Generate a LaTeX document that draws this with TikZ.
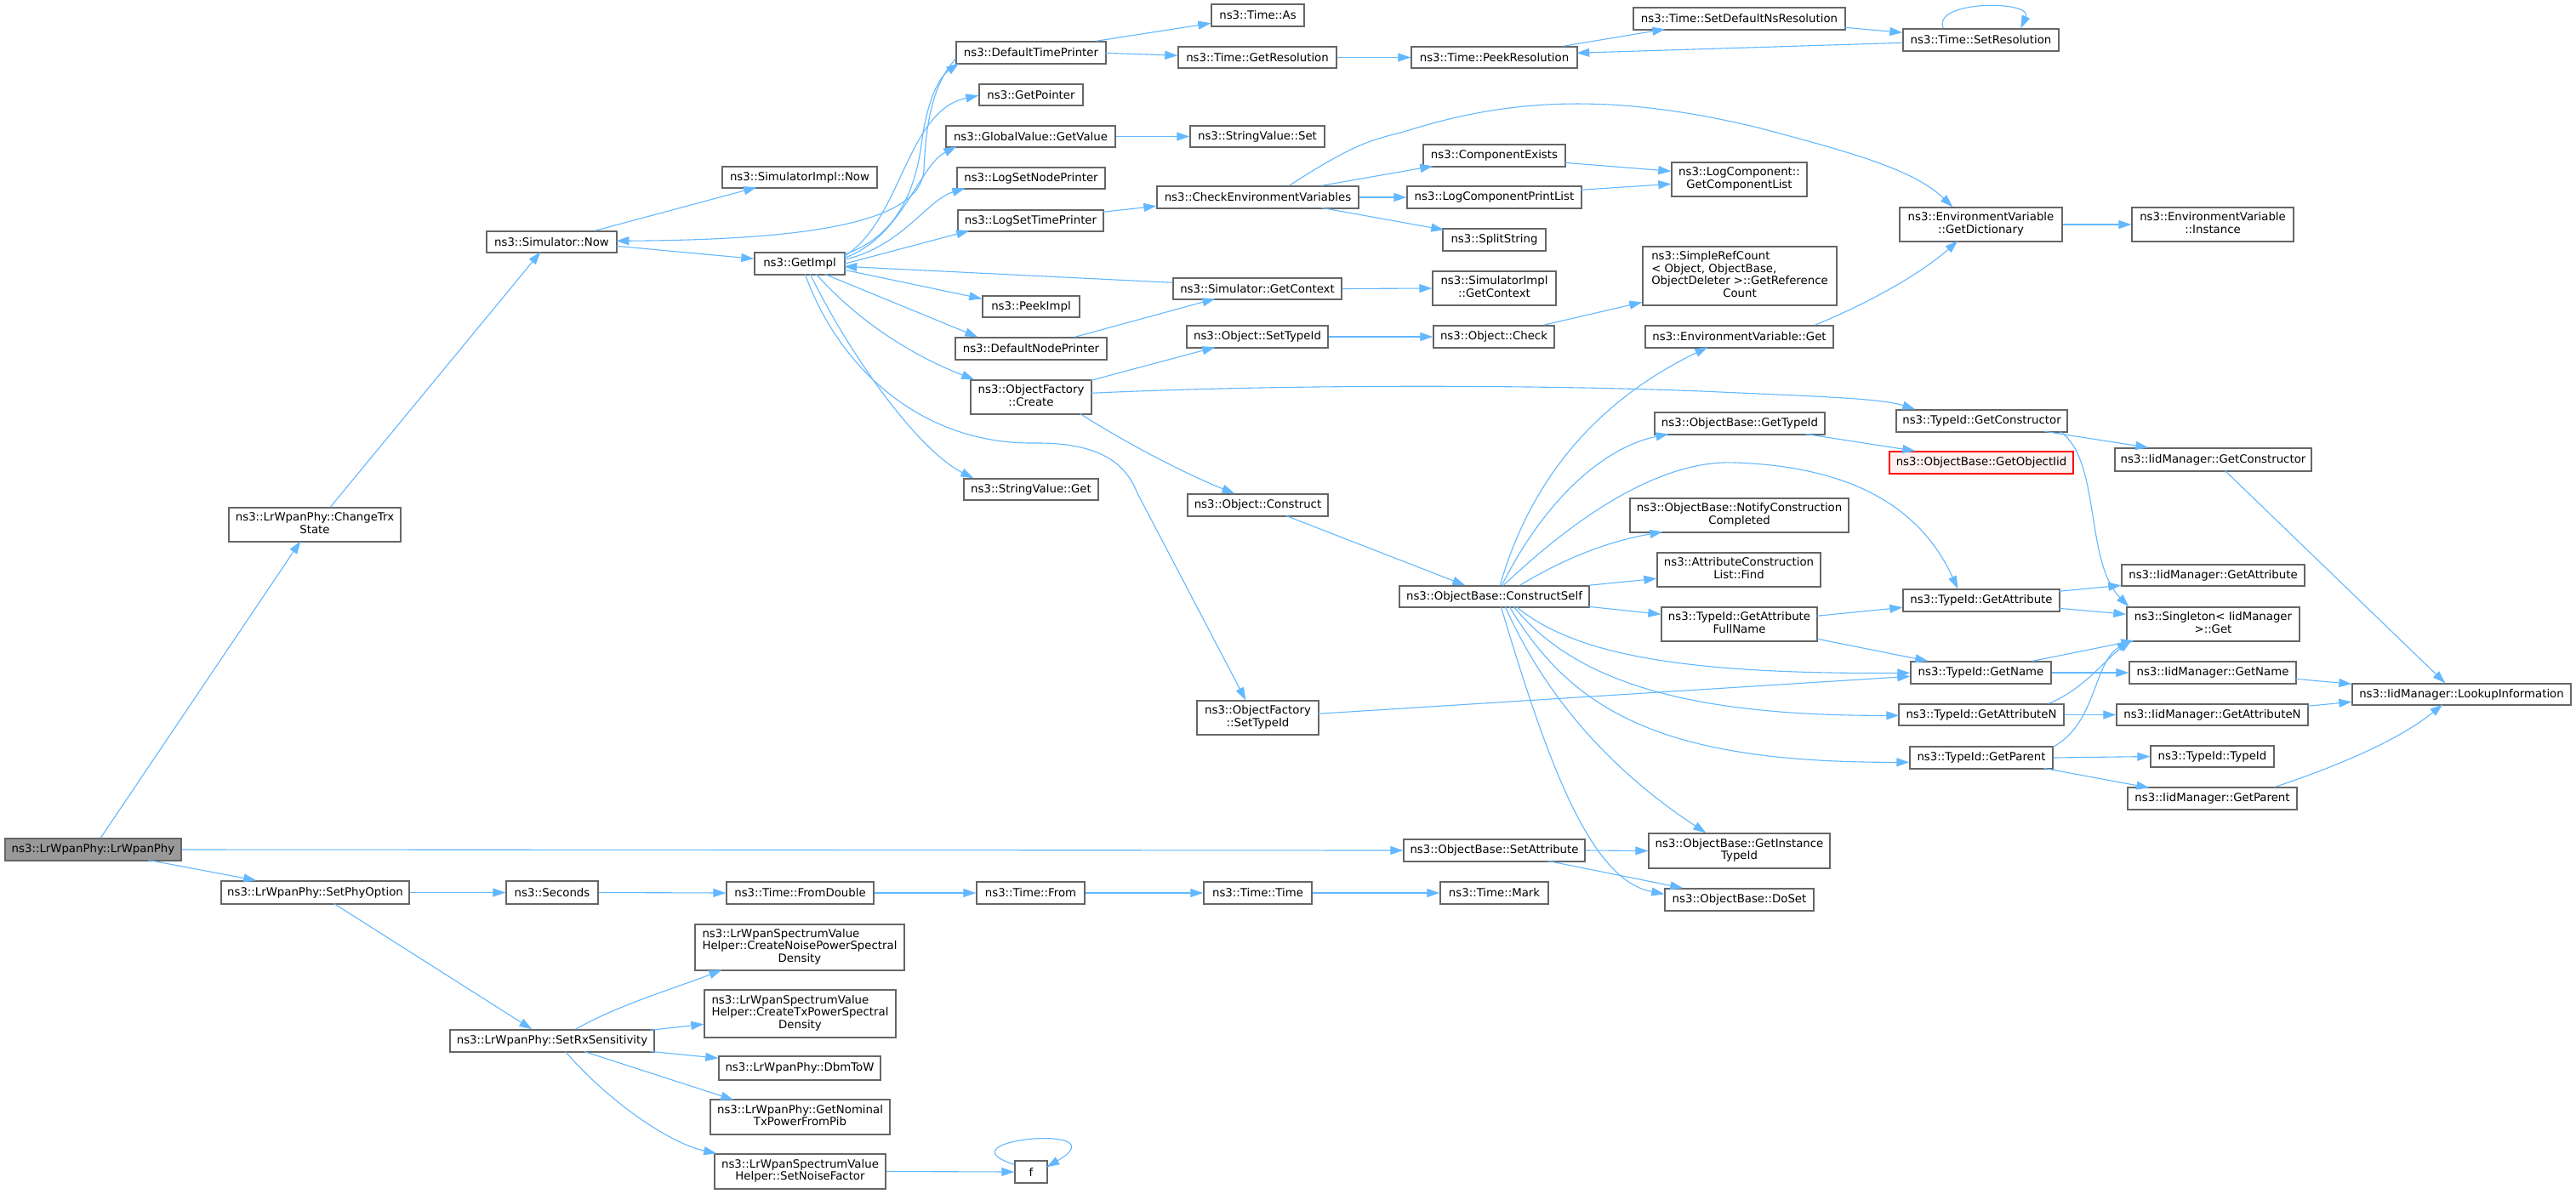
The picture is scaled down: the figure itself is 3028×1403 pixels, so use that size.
\documentclass[tikz,border=0pt]{standalone}
\usepackage{fontspec}
\setmainfont{DejaVu Sans}
\usetikzlibrary{arrows.meta,calc}
\definecolor{edgec}{HTML}{63B8FF}
\definecolor{boxc}{HTML}{666666}
\definecolor{rootf}{HTML}{999999}
\definecolor{redb}{HTML}{FF0000}
\definecolor{redf}{HTML}{FFF0F0}
\newcommand\mlines[1]{\begin{tabular}{@{}l@{}}#1\end{tabular}}
\newcommand\lastc[1]{\multicolumn{1}{@{}c@{}}{#1}}
\newcommand\gnode[7][]{\node[box,#1,minimum width={(#5-#3)*1pt},minimum height={(#6-#4)*1pt}] (#2) at ({(#3+#5)/2},{(#4+#6)/2}) {#7};}
\tikzset{
  box/.style={draw=boxc, line width=1.4pt, fill=white, inner sep=0pt, font=\fontsize{13.3}{14.7}\selectfont},
  root/.style={fill=rootf},
  redbox/.style={draw=redb, fill=redf},
  e/.style={draw=edgec, line width=1.1pt, -{Triangle[length=15pt,width=10pt]}}
}
\begin{document}
\begin{tikzpicture}[x=1pt,y=-1pt]
\fill[white] (0,0) rectangle (3028,1403);
\useasboundingbox (0,0) rectangle (3028,1403);
% nodes
\gnode[root]{lrw}{6}{986}{213}{1012}{ns3::LrWpanPhy::LrWpanPhy}
\gnode{ctrx}{269}{597}{471}{637}{\mlines{ns3::LrWpanPhy::ChangeTrx\\\lastc{State}}}
\gnode{smnow}{572}{272}{725}{297}{ns3::Simulator::Now}
\gnode{simpnow}{849}{196}{1031}{221}{ns3::SimulatorImpl::Now}
\gnode{gi}{887}{297}{993}{323}{ns3::GetImpl}
\gnode{dtp}{1124}{49}{1300}{75}{ns3::DefaultTimePrinter}
\gnode{tas}{1424}{5}{1533}{31}{ns3::Time::As}
\gnode{tgr}{1385}{55}{1571}{80}{ns3::Time::GetResolution}
\gnode{tpr}{1659}{55}{1854}{80}{ns3::Time::PeekResolution}
\gnode{tsdn}{1920}{9}{2169}{35}{ns3::Time::SetDefaultNsResolution}
\gnode{tsr}{2237}{34}{2420}{60}{ns3::Time::SetResolution}
\gnode{gptr}{1151}{99}{1273}{124}{ns3::GetPointer}
\gnode{gvgv}{1112}{148}{1311}{173}{ns3::GlobalValue::GetValue}
\gnode{svs}{1399}{148}{1557}{173}{ns3::StringValue::Set}
\gnode{lsnp}{1125}{197}{1299}{222}{ns3::LogSetNodePrinter}
\gnode{lstp}{1126}{247}{1297}{272}{ns3::LogSetTimePrinter}
\gnode{cev}{1360}{219}{1597}{245}{ns3::CheckEnvironmentVariables}
\gnode{cex}{1673}{170}{1840}{196}{ns3::ComponentExists}
\gnode{lcpl}{1654}{219}{1859}{245}{ns3::LogComponentPrintList}
\gnode{sps}{1696}{269}{1817}{295}{ns3::SplitString}
\gnode{lcgcl}{1965}{191}{2124}{231}{\mlines{ns3::LogComponent::\\\lastc{GetComponentList}}}
\gnode{evgd}{2233}{244}{2424}{284}{\mlines{ns3::EnvironmentVariable\\\lastc{::GetDictionary}}}
\gnode{evi}{2506}{244}{2696}{284}{\mlines{ns3::EnvironmentVariable\\\lastc{::Instance}}}
\gnode{sgc}{1379}{327}{1577}{352}{ns3::Simulator::GetContext}
\gnode{sigc}{1684}{319}{1829}{359}{\mlines{ns3::SimulatorImpl\\\lastc{::GetContext}}}
\gnode{pki}{1155}{348}{1269}{373}{ns3::PeekImpl}
\gnode{dnp}{1123}{397}{1301}{423}{ns3::DefaultNodePrinter}
\gnode{ostid}{1395}{383}{1561}{409}{ns3::Object::SetTypeId}
\gnode{ochk}{1685}{383}{1827}{409}{ns3::Object::Check}
\gnode{src}{1931}{290}{2159}{359}{\mlines{ns3::SimpleRefCount\\< Object, ObjectBase,\\ObjectDeleter >::GetReference\\\lastc{Count}}}
\gnode{evg}{1934}{383}{2155}{409}{ns3::EnvironmentVariable::Get}
\gnode{ofc}{1141}{447}{1283}{487}{\mlines{ns3::ObjectFactory\\\lastc{::Create}}}
\gnode{svg}{1133}{563}{1291}{588}{ns3::StringValue::Get}
\gnode{ocon}{1396}{581}{1561}{607}{ns3::Object::Construct}
\gnode{cs}{1645}{689}{1868}{714}{ns3::ObjectBase::ConstructSelf}
\gnode{ofst}{1407}{824}{1550}{864}{\mlines{ns3::ObjectFactory\\\lastc{::SetTypeId}}}
\gnode{obgt}{1945}{485}{2145}{511}{ns3::ObjectBase::GetTypeId}
\gnode{tgc}{2229}{482}{2430}{508}{ns3::TypeId::GetConstructor}
\gnode[redbox]{goi}{2221}{531}{2437}{557}{ns3::ObjectBase::GetObjectIid}
\gnode{igc}{2486}{527}{2717}{554}{ns3::IidManager::GetConstructor}
\gnode{ncc}{1916}{586}{2173}{626}{\mlines{ns3::ObjectBase::NotifyConstruction\\\lastc{Completed}}}
\gnode{acl}{1948}{650}{2140}{690}{\mlines{ns3::AttributeConstruction\\\lastc{List::Find}}}
\gnode{iga}{2494}{664}{2709}{689}{ns3::IidManager::GetAttribute}
\gnode{tga}{2237}{693}{2421}{719}{ns3::TypeId::GetAttribute}
\gnode{gafn}{1953}{714}{2136}{754}{\mlines{ns3::TypeId::GetAttribute\\\lastc{FullName}}}
\gnode{sng}{2500}{714}{2703}{754}{\mlines{ns3::Singleton< IidManager\\\lastc{>::Get}}}
\gnode{tgn}{2246}{778}{2411}{804}{ns3::TypeId::GetName}
\gnode{ign}{2503}{778}{2699}{804}{ns3::IidManager::GetName}
\gnode{lki}{2765}{804}{3022}{829}{ns3::IidManager::LookupInformation}
\gnode{tgan}{2232}{828}{2426}{853}{ns3::TypeId::GetAttributeN}
\gnode{igan}{2488}{828}{2713}{853}{ns3::IidManager::GetAttributeN}
\gnode{tgp}{2245}{878}{2413}{904}{ns3::TypeId::GetParent}
\gnode{ttid}{2528}{877}{2673}{902}{ns3::TypeId::TypeId}
\gnode{igp}{2501}{926}{2700}{952}{ns3::IidManager::GetParent}
\gnode{sa}{1650}{987}{1863}{1013}{ns3::ObjectBase::SetAttribute}
\gnode{git}{1938}{980}{2151}{1021}{\mlines{ns3::ObjectBase::GetInstance\\\lastc{TypeId}}}
\gnode{dos}{1957}{1045}{2132}{1071}{ns3::ObjectBase::DoSet}
\gnode{spo}{260}{1036}{481}{1063}{ns3::LrWpanPhy::SetPhyOption}
\gnode{sec}{595}{1036}{703}{1063}{ns3::Seconds}
\gnode{tfd}{854}{1037}{1027}{1063}{ns3::Time::FromDouble}
\gnode{tfr}{1148}{1037}{1275}{1063}{ns3::Time::From}
\gnode{ttm}{1415}{1037}{1542}{1063}{ns3::Time::Time}
\gnode{tmk}{1693}{1037}{1820}{1063}{ns3::Time::Mark}
\gnode{srx}{529}{1211}{769}{1237}{ns3::LrWpanPhy::SetRxSensitivity}
\gnode{cnp}{817}{1087}{1063}{1141}{\mlines{ns3::LrWpanSpectrumValue\\Helper::CreateNoisePowerSpectral\\\lastc{Density}}}
\gnode{ctx}{828}{1164}{1053}{1220}{\mlines{ns3::LrWpanSpectrumValue\\Helper::CreateTxPowerSpectral\\\lastc{Density}}}
\gnode{dbm}{845}{1242}{1035}{1270}{ns3::LrWpanPhy::DbmToW}
\gnode{gnt}{835}{1293}{1046}{1334}{\mlines{ns3::LrWpanPhy::GetNominal\\\lastc{TxPowerFromPib}}}
\gnode{snf}{840}{1357}{1041}{1398}{\mlines{ns3::LrWpanSpectrumValue\\\lastc{Helper::SetNoiseFactor}}}
\gnode{ff}{1193}{1365}{1231}{1391}{f}
% edges
\draw[e] ($(lrw.north west)+(113,0)$) -- ($(ctrx.north west)+(85,40)$);
\draw[e] (lrw.east) -- (sa.west);
\draw[e] ($(lrw.north west)+(169,26)$) -- ($(spo.north west)+(42,0)$);
\draw[e] ($(ctrx.north west)+(120,0)$) -- ($(smnow.north west)+(64,25)$);
\draw[e] ($(smnow.north west)+(128,0)$) -- ($(simpnow.north west)+(41,25)$);
\draw[e] ($(smnow.north west)+(153,18)$) -- ($(gi.north west)+(0,8)$);
\draw[e] ($(dtp.north west)+(0,21)$) .. controls (1095,100) and (1088,150) .. (1086,200) .. controls (1082,262) and (950,282) .. ($(smnow.north west)+(153,12)$);
\draw[e] ($(gi.north west)+(106,3)$) .. controls (1050,280) and (1075,230) .. (1083,170) .. controls (1090,115) and (1105,90) .. ($(dtp.north west)+(4,26)$);
\draw[e] ($(gi.north west)+(106,5)$) .. controls (1060,260) and (1065,130) .. ($(gptr.north west)+(0,14)$);
\draw[e] ($(gi.north west)+(106,7)$) .. controls (1060,280) and (1080,195) .. ($(gvgv.north west)+(13,25)$);
\draw[e] ($(gi.north west)+(106,9)$) .. controls (1060,290) and (1090,235) .. ($(lsnp.north west)+(10,25)$);
\draw[e] ($(gi.north west)+(106,14)$) -- ($(lstp.north west)+(14,25)$);
\draw[e] ($(sgc.north west)+(0,6)$) -- ($(gi.north west)+(106,17)$);
\draw[e] ($(gi.north west)+(106,21)$) -- ($(pki.north west)+(0,4)$);
\draw[e] ($(gi.north west)+(83,26)$) -- ($(dnp.north west)+(27,0)$);
\draw[e] ($(gi.north west)+(73,26)$) .. controls (1020,390) and (1090,425) .. ($(ofc.north west)+(5,0)$);
\draw[e] ($(gi.north west)+(66,26)$) .. controls (1000,420) and (1080,530) .. ($(svg.north west)+(12,0)$);
\draw[e] ($(gi.north west)+(60,26)$) .. controls (985,430) and (1080,522) .. (1215,521) .. controls (1300,520) and (1325,550) .. (1337,580) -- ($(ofst.north west)+(58,0)$);
\draw[e] ($(dtp.north west)+(165,0)$) -- ($(tas.north west)+(0,23)$);
\draw[e] ($(dtp.north west)+(176,14)$) -- ($(tgr.north west)+(0,11)$);
\draw[e] (tgr.east) -- (tpr.west);
\draw[e] ($(tpr.north west)+(179,0)$) -- ($(tsdn.north west)+(38,26)$);
\draw[e] ($(tsr.north west)+(0,17)$) -- ($(tpr.north west)+(195,8)$);
\draw[e] ($(tsdn.north west)+(249,24)$) -- ($(tsr.north west)+(0,5)$);
\draw[e] ($(tsr.north west)+(48,0)$) .. controls (2270,0) and (2390,0) .. ($(tsr.north west)+(139,0)$);
\draw[e] (gvgv.east) -- (svs.west);
\draw[e] ($(lstp.north west)+(171,3)$) -- ($(cev.north west)+(0,24)$);
\draw[e] ($(cev.north west)+(194,0)$) -- ($(cex.north west)+(12,26)$);
\draw[e] (cev.east) -- (lcpl.west);
\draw[e] ($(cev.north west)+(194,26)$) -- ($(sps.north west)+(2,2)$);
\draw[e] ($(cev.north west)+(156,0)$) .. controls (1590,170) and (1610,165) .. (1650,155) .. controls (1760,120) and (1880,105) .. (2066,150) .. controls (2180,180) and (2250,200) .. ($(evgd.north west)+(63,0)$);
\draw[e] ($(cex.north west)+(167,22)$) -- ($(lcgcl.north west)+(0,11)$);
\draw[e] ($(lcpl.north west)+(205,5)$) -- ($(lcgcl.north west)+(0,26)$);
\draw[e] (evgd.east) -- (evi.west);
\draw[e] ($(evg.north west)+(200,0)$) .. controls (2200,355) and (2260,320) .. ($(evgd.north west)+(69,40)$);
\draw[e] (sgc.east) -- (sigc.west);
\draw[e] ($(dnp.north west)+(141,0)$) -- ($(sgc.north west)+(50,25)$);
\draw[e] (ostid.east) -- (ochk.west);
\draw[e] ($(ochk.north west)+(130,0)$) -- ($(src.north west)+(0,66)$);
\draw[e] ($(ofc.north west)+(142,1)$) -- ($(ostid.north west)+(34,26)$);
\draw[e] ($(ofc.north west)+(142,16)$) .. controls (1500,452) and (1800,452) .. (2000,460) .. controls (2130,466) and (2210,468) .. ($(tgc.north west)+(23,0)$);
\draw[e] ($(ofc.north west)+(129,40)$) .. controls (1330,525) and (1400,560) .. ($(ocon.north west)+(56,0)$);
\draw[e] ($(ocon.north west)+(116,26)$) -- ($(cs.north west)+(78,0)$);
\draw[e] ($(ofst.north west)+(143,16)$) -- ($(tgn.north west)+(0,18)$);
\draw[e] ($(cs.north west)+(119,0)$) .. controls (1800,560) and (1880,470) .. ($(evg.north west)+(74,26)$);
\draw[e] ($(cs.north west)+(121,0)$) .. controls (1820,580) and (1890,525) .. ($(obgt.north west)+(17,26)$);
\draw[e] ($(cs.north west)+(123,0)$) .. controls (1850,610) and (1950,540) .. (2040,544) .. controls (2150,548) and (2250,580) .. ($(tga.north west)+(65,0)$);
\draw[e] ($(cs.north west)+(142,0)$) .. controls (1850,650) and (1900,635) .. ($(ncc.north west)+(39,40)$);
\draw[e] ($(cs.north west)+(223,0)$) -- ($(acl.north west)+(0,31)$);
\draw[e] ($(cs.north west)+(223,25)$) -- ($(gafn.north west)+(0,9)$);
\draw[e] ($(cs.north west)+(138,25)$) .. controls (1850,770) and (1980,793) .. ($(tgn.north west)+(0,14)$);
\draw[e] ($(cs.north west)+(135,25)$) .. controls (1850,800) and (1980,842) .. ($(tgan.north west)+(1,14)$);
\draw[e] ($(cs.north west)+(130,25)$) .. controls (1850,840) and (1960,897) .. ($(tgp.north west)+(0,19)$);
\draw[e] ($(cs.north west)+(125,25)$) .. controls (1830,850) and (1930,930) .. ($(git.north west)+(68,0)$);
\draw[e] ($(cs.north west)+(120,25)$) .. controls (1820,900) and (1870,1035) .. ($(dos.north west)+(0,7)$);
\draw[e] (sa.east) -- (git.west);
\draw[e] ($(sa.north west)+(170,26)$) -- ($(dos.north west)+(22,0)$);
\draw[e] ($(obgt.north west)+(178,26)$) -- ($(goi.north west)+(31,0)$);
\draw[e] ($(tgc.north west)+(175,26)$) -- ($(igc.north west)+(40,0)$);
\draw[e] ($(tgc.north west)+(193,26)$) .. controls (2470,540) and (2450,660) .. ($(sng.north west)+(3,0)$);
\draw[e] ($(igc.north west)+(130,27)$) -- ($(lki.north west)+(110,0)$);
\draw[e] ($(tga.north west)+(184,3)$) -- ($(iga.north west)+(0,25)$);
\draw[e] ($(tga.north west)+(184,23)$) -- ($(sng.north west)+(0,9)$);
\draw[e] ($(gafn.north west)+(183,11)$) -- ($(tga.north west)+(0,22)$);
\draw[e] ($(gafn.north west)+(184,38)$) -- ($(tgn.north west)+(21,0)$);
\draw[e] ($(tgn.north west)+(144,0)$) -- ($(sng.north west)+(9,40)$);
\draw[e] (tgn.east) -- (ign.west);
\draw[e] ($(tgan.north west)+(177,0)$) .. controls (2450,810) and (2475,775) .. ($(sng.north west)+(6,40)$);
\draw[e] (tgan.east) -- (igan.west);
\draw[e] ($(tgp.north west)+(169,1)$) .. controls (2465,850) and (2460,780) .. ($(sng.north west)+(4,40)$);
\draw[e] (tgp.east) -- (ttid.west);
\draw[e] ($(tgp.north west)+(158,26)$) -- ($(igp.north west)+(26,1)$);
\draw[e] ($(ign.north west)+(196,21)$) -- ($(lki.north west)+(0,1)$);
\draw[e] ($(igan.north west)+(225,3)$) -- ($(lki.north west)+(0,22)$);
\draw[e] ($(igp.north west)+(174,0)$) .. controls (2750,900) and (2820,870) .. ($(lki.north west)+(107,25)$);
\draw[e] (spo.east) -- (sec.west);
\draw[e] (sec.east) -- (tfd.west);
\draw[e] (tfd.east) -- (tfr.west);
\draw[e] (tfr.east) -- (ttm.west);
\draw[e] (ttm.east) -- (tmk.west);
\draw[e] ($(spo.north west)+(133,27)$) -- ($(srx.north west)+(97,0)$);
\draw[e] ($(srx.north west)+(148,0)$) .. controls (730,1180) and (800,1160) .. ($(cnp.north west)+(32,54)$);
\draw[e] ($(srx.north west)+(236,1)$) -- ($(ctx.north west)+(0,41)$);
\draw[e] ($(srx.north west)+(236,26)$) -- ($(dbm.north west)+(0,3)$);
\draw[e] ($(srx.north west)+(158,26)$) -- ($(gnt.north west)+(28,1)$);
\draw[e] ($(srx.north west)+(136,26)$) .. controls (720,1300) and (790,1345) .. ($(snf.north west)+(3,0)$);
\draw[e] (snf.east) -- (ff.west);
\draw[e] ($(ff.north west)+(0,5)$) .. controls (1100,1340) and (1320,1320) .. ($(ff.north west)+(38,8)$);
\end{tikzpicture}
\end{document}
